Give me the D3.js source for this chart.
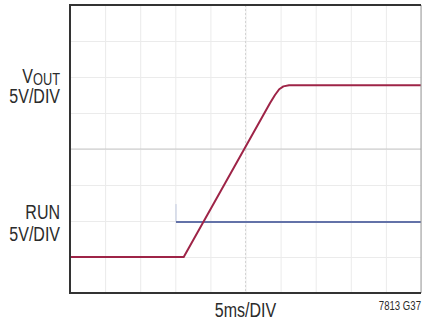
<!DOCTYPE html>
<html lang="en">
<head>
<meta charset="UTF-8">
<title>Start-up waveform</title>
<script src="https://cdn.jsdelivr.net/npm/d3@7"></script>
<style>
    body { margin: 0; background: #ffffff; }
    svg text { font-family: "Liberation Sans", Arial, sans-serif; fill: #2b2b2b; }
    .grid line { stroke: #ebebeb; stroke-width: 1px; }
    .grid path { display: none; }
</style>
</head>
<body>
<div id="chart"></div>
<script>
    var WIDTH = 422;
    var HEIGHT = 320;
    var LEFT = 70, RIGHT = 421, TOP = 5, BOTTOM = 293;
    var NARROW = 0.8;

    // scope settings: 5ms/div x 10 divs, 5V/div x 8 divs, ground one div above bottom
    var TIME_DIVS = [0, 5, 10, 15, 20, 25, 30, 35, 40, 45, 50];
    var VOLT_DIVS = [-5, 0, 5, 10, 15, 20, 25, 30, 35];

    // VOUT trace (ms, V)
    var VOUT_T = [0, 16.2, 28.5, 29.2, 29.8, 30.4, 31.2, 50];
    var VOUT_V = [0, 0, 21.4, 22.5, 23.3, 23.7, 23.85, 23.85];

    // RUN trace (ms, V); null = edge too fast to show
    var RUN_T = [0, 15.1, 15.1, 15.1, 50];
    var RUN_V = [0, 0, null, 4.85, 4.85];
    var RUN_EDGE_T = [15.1, 15.1];
    var RUN_EDGE_V = [4.85, 7.35];

    var x = d3.scaleLinear().domain([0, 50]).range([LEFT, RIGHT]);
    var y = d3.scaleLinear().domain([-5, 35]).range([BOTTOM, TOP]);

    var svg = d3.select("#chart").append("svg")
        .attr("width", WIDTH)
        .attr("height", HEIGHT);

    // grid
    svg.append("g")
        .attr("class", "grid")
        .attr("transform", "translate(0," + BOTTOM + ")")
        .call(d3.axisBottom(x).tickValues(TIME_DIVS).tickSize(-(BOTTOM - TOP)).tickFormat(""));

    svg.append("g")
        .attr("class", "grid")
        .attr("transform", "translate(" + LEFT + ",0)")
        .call(d3.axisLeft(y).tickValues(VOLT_DIVS).tickSize(-(RIGHT - LEFT)).tickFormat(""));

    // center lines
    svg.append("line")
        .attr("x1", LEFT).attr("x2", RIGHT)
        .attr("y1", y(15)).attr("y2", y(15))
        .style("stroke", "#c8c8c8").style("stroke-width", 1);

    svg.append("line")
        .attr("x1", x(25)).attr("x2", x(25))
        .attr("y1", TOP).attr("y2", BOTTOM)
        .style("stroke", "#d4d4d4").style("stroke-width", 1)
        .style("stroke-dasharray", "2,2");

    var line = d3.line()
        .defined(function(d) { return d[1] !== null; })
        .x(function(d) { return x(d[0]); })
        .y(function(d) { return y(d[1]); });

    function zip(a, b) {
        return a.map(function(v, i) { return [v, b[i]]; });
    }

    // RUN
    svg.append("path")
        .datum(zip(RUN_EDGE_T, RUN_EDGE_V))
        .attr("d", line)
        .attr("fill", "none")
        .attr("stroke", "#bfc8df")
        .attr("stroke-width", 1);

    svg.append("path")
        .datum(zip(RUN_T, RUN_V))
        .attr("d", line)
        .attr("fill", "none")
        .attr("stroke", "#6372a8")
        .attr("stroke-width", 2);

    // VOUT
    svg.append("path")
        .datum(zip(VOUT_T, VOUT_V))
        .attr("d", line)
        .attr("fill", "none")
        .attr("stroke", "#9e2447")
        .attr("stroke-width", 2)
        .attr("stroke-linejoin", "round");

    // frame
    svg.append("line")
        .attr("x1", RIGHT).attr("x2", RIGHT).attr("y1", TOP).attr("y2", BOTTOM)
        .style("stroke", "#9a9a9a").style("stroke-width", 1);
    svg.append("path")
        .attr("d", "M" + RIGHT + "," + TOP + "H" + LEFT + "V" + BOTTOM + "H" + RIGHT)
        .attr("fill", "none")
        .attr("stroke", "#333333")
        .attr("stroke-width", 2);

    // condensed labels: place at anchor point then squeeze horizontally
    function label(px, py, anchor, size) {
        return svg.append("g")
            .attr("transform", "translate(" + px + "," + py + ") scale(" + NARROW + ",1)")
            .append("text")
            .attr("text-anchor", anchor)
            .style("font-size", size + "px");
    }

    var vout = label(60, 83, "end", 20);
    vout.append("tspan").text("V");
    vout.append("tspan").text("OUT").attr("dy", 1.5).style("font-size", "16px");

    label(60, 103, "end", 20).text("5V/DIV");
    label(60, 219, "end", 20).text("RUN");
    label(60, 241, "end", 20).text("5V/DIV");
    label(x(25), 317, "middle", 20).text("5ms/DIV");
    label(421, 310, "end", 12).text("7813 G37");
</script>
</body>
</html>
